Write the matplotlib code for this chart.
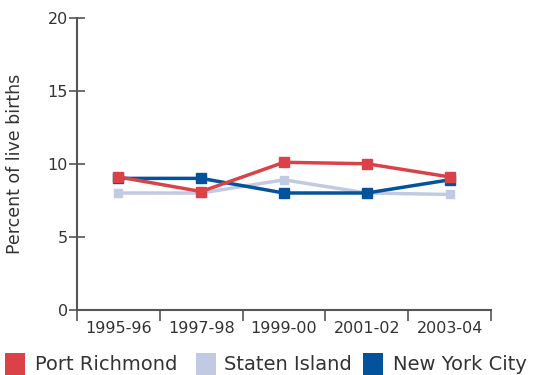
import matplotlib
matplotlib.use("Agg")
import matplotlib.pyplot as plt
from matplotlib.patches import Rectangle

categories = ["1995-96", "1997-98", "1999-00", "2001-02", "2003-04"]
port_richmond = [9.1, 8.1, 10.1, 10.0, 9.1]
staten_island = [8.0, 8.0, 8.9, 8.0, 7.9]
new_york_city = [9.0, 9.0, 8.0, 8.0, 8.9]
series_names = ["Port Richmond", "Staten Island", "New York City"]
colors = ["#DB4247", "#C2CAE3", "#03529C"]
yticks = [0, 5, 10, 15, 20]

plt.rcParams['font.family'] = ['DejaVu Sans']
txt = "#333333"
W, H = 540, 375
fig = plt.figure(figsize=(5.4, 3.75), dpi=100)
ax = fig.add_axes([77/W, 1-310/H, (491-77)/W, (310-17.5)/H])

x = list(range(len(categories)))
ax.plot(x, staten_island, color=colors[1], lw=2.5, marker='s', ms=6, zorder=2)
ax.plot(x, new_york_city, color=colors[2], lw=2.5, marker='s', ms=7.5, zorder=3)
ax.plot(x, port_richmond, color=colors[0], lw=2.5, marker='s', ms=7.5, zorder=4)

ax.set_xlim(-0.5, 4.5)
ax.set_ylim(0, 20)
ax.set_yticks(yticks)
ax.set_yticklabels([str(v) for v in yticks])
ax.set_xticks([i - 0.5 for i in range(len(categories) + 1)], minor=False)
ax.set_xticklabels([])
ax.set_xticks(x, minor=True)
ax.set_xticklabels(categories, minor=True)
ax.tick_params(axis='x', which='major', length=8, width=1.2, color='#555555', direction='out')
ax.tick_params(axis='x', which='minor', length=0, pad=8, labelsize=11.5, labelcolor=txt)
ax.tick_params(axis='y', length=11, width=1.2, color='#555555', direction='inout', labelsize=11.5, labelcolor=txt, pad=1)
for s in ['top', 'right']:
    ax.spines[s].set_visible(False)
for s in ['left', 'bottom']:
    ax.spines[s].set_color('#555555')
    ax.spines[s].set_linewidth(1.5)
ax.set_ylabel("Percent of live births", fontsize=12.5, color=txt, labelpad=17)

# legend, laid out manually along the bottom
sq_x = [5, 196, 363]
tx_x = [35, 224, 393]
for i, name in enumerate(series_names):
    fig.patches.append(Rectangle((sq_x[i]/W, 0), 20/W, 22/H, transform=fig.transFigure,
                                 facecolor=colors[i], edgecolor='none'))
    fig.text(tx_x[i]/W, 11/H, name, fontsize=14, color=txt, va='center', ha='left')

fig.savefig("out.png", dpi=100)
